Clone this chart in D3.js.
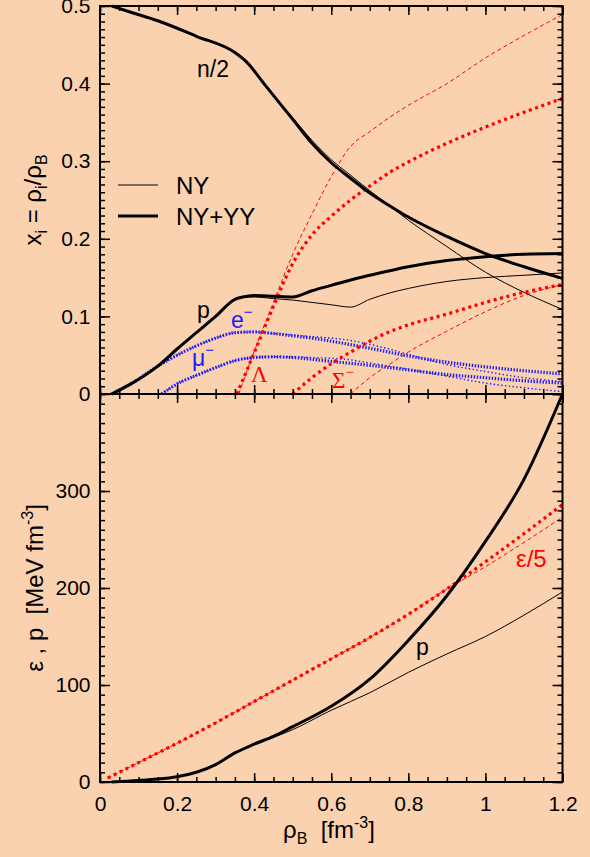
<!DOCTYPE html>
<html>
<head>
<meta charset="utf-8">
<script src="https://cdn.jsdelivr.net/npm/d3@7"></script>
<style>
  html, body { margin: 0; padding: 0; background: #FAD2B0; }
  svg { display: block; font-family: "Liberation Sans", Arial, sans-serif; }
</style>
</head>
<body>
<svg id="chart" width="590" height="857"></svg>
<script>
// --- data: [rho_B, value] ---
const rhoTicks = [0, 0.2, 0.4, 0.6, 0.8, 1, 1.2];
const fracTicks = [0, 0.1, 0.2, 0.3, 0.4, 0.5];
const eosTicks = [0, 100, 200, 300];

// upper panel, particle fractions (NY+YY thick, NY thin)
const neutronHalfNYYY = [[0.03,0.500],[0.08,0.492],[0.15,0.481],[0.25,0.461],[0.35,0.440],[0.38,0.428],[0.43,0.397],[0.5,0.354],[0.55,0.323],[0.6,0.298],[0.65,0.278],[0.7,0.259],[0.75,0.243],[0.8,0.228],[0.9,0.203],[1.0,0.181],[1.1,0.164],[1.2,0.149]];
const neutronHalfNY = [[0.03,0.500],[0.08,0.492],[0.15,0.481],[0.25,0.461],[0.35,0.440],[0.38,0.428],[0.43,0.397],[0.5,0.356],[0.55,0.327],[0.6,0.302],[0.65,0.282],[0.7,0.262],[0.75,0.243],[0.8,0.224],[0.9,0.190],[1.0,0.157],[1.1,0.131],[1.2,0.109]];
const protonNYYY = [[0.03,0],[0.08,0.013],[0.15,0.036],[0.2,0.058],[0.25,0.079],[0.3,0.100],[0.35,0.122],[0.37,0.125],[0.4,0.127],[0.45,0.126],[0.5,0.125],[0.55,0.133],[0.6,0.140],[0.65,0.147],[0.7,0.153],[0.8,0.164],[0.9,0.172],[1.0,0.177],[1.1,0.180],[1.2,0.181]];
const protonNY = [[0.03,0],[0.08,0.013],[0.15,0.036],[0.2,0.058],[0.25,0.079],[0.3,0.100],[0.35,0.122],[0.37,0.125],[0.4,0.125],[0.45,0.123],[0.5,0.121],[0.55,0.118],[0.6,0.115],[0.65,0.112],[0.7,0.122],[0.75,0.130],[0.8,0.136],[0.9,0.145],[1.0,0.150],[1.1,0.153],[1.2,0.156]];
const electronNYYY = [[0.03,0],[0.08,0.013],[0.15,0.036],[0.2,0.050],[0.25,0.062],[0.3,0.072],[0.35,0.079],[0.4,0.080],[0.45,0.078],[0.5,0.075],[0.55,0.072],[0.6,0.068],[0.7,0.059],[0.8,0.049],[0.9,0.041],[1.0,0.035],[1.1,0.030],[1.2,0.026]];
const electronNY = [[0.03,0],[0.08,0.013],[0.15,0.036],[0.2,0.050],[0.25,0.062],[0.3,0.072],[0.35,0.079],[0.4,0.080],[0.45,0.078],[0.5,0.076],[0.55,0.074],[0.6,0.072],[0.65,0.069],[0.7,0.064],[0.75,0.058],[0.8,0.051],[0.9,0.038],[1.0,0.029],[1.1,0.021],[1.2,0.016]];
const muonNYYY = [[0.16,0],[0.2,0.013],[0.25,0.024],[0.3,0.034],[0.35,0.043],[0.4,0.047],[0.45,0.048],[0.5,0.047],[0.6,0.042],[0.7,0.037],[0.8,0.031],[0.9,0.025],[1.0,0.021],[1.1,0.017],[1.2,0.014]];
const muonNY = [[0.16,0],[0.2,0.013],[0.25,0.024],[0.3,0.034],[0.35,0.043],[0.4,0.047],[0.45,0.048],[0.5,0.048],[0.55,0.047],[0.6,0.046],[0.65,0.044],[0.7,0.040],[0.8,0.032],[0.9,0.023],[1.0,0.014],[1.1,0.008],[1.2,0.003]];
const lambdaNYYY = [[0.355,0],[0.4,0.053],[0.45,0.113],[0.5,0.168],[0.55,0.205],[0.6,0.229],[0.65,0.250],[0.7,0.268],[0.75,0.285],[0.8,0.299],[0.9,0.323],[1.0,0.344],[1.1,0.363],[1.2,0.381]];
const lambdaNY = [[0.36,0],[0.4,0.055],[0.45,0.118],[0.5,0.180],[0.55,0.232],[0.6,0.280],[0.65,0.319],[0.7,0.338],[0.75,0.356],[0.8,0.372],[0.9,0.400],[1.0,0.433],[1.1,0.462],[1.2,0.489]];
const sigmaNYYY = [[0.5,0],[0.55,0.021],[0.6,0.039],[0.65,0.054],[0.7,0.068],[0.75,0.080],[0.8,0.089],[0.9,0.103],[1.0,0.118],[1.1,0.131],[1.2,0.141]];
const sigmaNY = [[0.65,0],[0.7,0.021],[0.75,0.038],[0.8,0.054],[0.9,0.081],[1.0,0.106],[1.1,0.127],[1.2,0.141]];

// lower panel, EoS in MeV fm^-3
const pressureNYYY = [[0.03,0],[0.1,1.5],[0.15,3],[0.2,5.5],[0.25,10],[0.3,18],[0.35,30],[0.4,39],[0.45,47],[0.5,57],[0.6,78],[0.7,106],[0.8,146],[0.9,192],[1.0,248],[1.1,312],[1.2,400]];
const pressureNY = [[0.03,0],[0.1,1.5],[0.15,3],[0.2,5.5],[0.25,10],[0.3,18],[0.35,30],[0.4,39],[0.45,46],[0.5,54],[0.6,74],[0.7,92],[0.8,113],[0.9,132],[1.0,150],[1.1,172],[1.2,196]];
const energy5NYYY = [[0.02,4],[0.1,20],[0.2,40],[0.3,61],[0.4,83],[0.5,105],[0.6,127],[0.7,149],[0.8,173],[0.9,199],[1.0,227],[1.1,256],[1.2,286]];
const energy5NY = [[0.02,4],[0.1,20],[0.2,40],[0.3,61],[0.4,83],[0.5,105],[0.6,127],[0.7,149],[0.8,173],[0.9,199],[1.0,222],[1.1,247],[1.2,273]];

// --- layout ---
const padLeft = 100, padRight = 562.5, padTop = 6, padMid = 394, padBottom = 782;
const svg = d3.select("#chart");

const x = d3.scaleLinear().domain([0, 1.2]).range([padLeft, padRight]);
const yTop = d3.scaleLinear().domain([0, 0.5]).range([padMid, padTop]);
const yBot = d3.scaleLinear().domain([0, 400]).range([padBottom, padMid]);

const RED = "#ff0000", BLUE = "#1a1aff";

// styles: thick = NY+YY, thin = NY
const styles = {
  blackThick: { stroke: "#000", width: 3, dash: null },
  blackThin: { stroke: "#000", width: 1, dash: null },
  redThick: { stroke: RED, width: 3.2, dash: "3,3.6" },
  redThin: { stroke: RED, width: 1, dash: "4,3" },
  blueThick: { stroke: BLUE, width: 3.2, dash: "1.4,1.6" },
  blueThin: { stroke: BLUE, width: 1.4, dash: "1.4,2.4" }
};

function drawCurve(data, yScale, st) {
  const line = d3.line()
    .x(d => x(d[0]))
    .y(d => yScale(d[1]))
    .curve(d3.curveMonotoneX);
  svg.append("path")
    .attr("d", line(data))
    .attr("fill", "none")
    .attr("stroke", st.stroke)
    .attr("stroke-width", st.width)
    .attr("stroke-dasharray", st.dash)
    .attr("stroke-linejoin", "round");
}

// upper panel curves
drawCurve(muonNY, yTop, styles.blueThin);
drawCurve(electronNY, yTop, styles.blueThin);
drawCurve(muonNYYY, yTop, styles.blueThick);
drawCurve(electronNYYY, yTop, styles.blueThick);
drawCurve(lambdaNY, yTop, styles.redThin);
drawCurve(sigmaNY, yTop, styles.redThin);
drawCurve(lambdaNYYY, yTop, styles.redThick);
drawCurve(sigmaNYYY, yTop, styles.redThick);
drawCurve(neutronHalfNY, yTop, styles.blackThin);
drawCurve(protonNY, yTop, styles.blackThin);
drawCurve(neutronHalfNYYY, yTop, styles.blackThick);
drawCurve(protonNYYY, yTop, styles.blackThick);

// lower panel curves
drawCurve(energy5NY, yBot, styles.redThin);
drawCurve(energy5NYYY, yBot, styles.redThick);
drawCurve(pressureNY, yBot, styles.blackThin);
drawCurve(pressureNYYY, yBot, styles.blackThick);

// --- axes ---
const fmtX = d => String(+d.toFixed(1));
const minorX = d3.range(0, 1.2001, 0.05);
const minorFrac = d3.range(0, 0.5001, 0.01);
const minorEos = d3.range(0, 400.1, 10);

function addAxis(axis, tx, ty, fontSize) {
  const g = svg.append("g")
    .attr("transform", `translate(${tx},${ty})`)
    .call(axis);
  g.select(".domain").remove();
  g.selectAll(".tick line").attr("stroke", "#000").attr("stroke-width", 1.5);
  g.selectAll(".tick text")
    .attr("fill", "#000")
    .style("font-size", fontSize + "px")
    .style("font-family", "'Liberation Sans', Arial, sans-serif");
  return g;
}

// x axes (bottom, middle, top)
addAxis(d3.axisBottom(x).tickValues(rhoTicks).tickSize(-9).tickPadding(14).tickFormat(fmtX), 0, padBottom, 21);
addAxis(d3.axisBottom(x).tickValues(minorX).tickSize(-5).tickFormat(""), 0, padBottom, 0);
[[-9, rhoTicks], [-5, minorX]].forEach(([s, vals]) => {
  addAxis(d3.axisBottom(x).tickValues(vals).tickSize(s).tickFormat(""), 0, padMid, 0);
  addAxis(d3.axisTop(x).tickValues(vals).tickSize(s).tickFormat(""), 0, padMid, 0);
  addAxis(d3.axisTop(x).tickValues(vals).tickSize(s).tickFormat(""), 0, padTop, 0);
});

// y axes upper
addAxis(d3.axisLeft(yTop).tickValues(fracTicks).tickSize(-10).tickPadding(9.5).tickFormat(d3.format("~g")), padLeft, 0, 21);
addAxis(d3.axisLeft(yTop).tickValues(minorFrac).tickSize(-5).tickFormat(""), padLeft, 0, 0);
addAxis(d3.axisRight(yTop).tickValues(fracTicks).tickSize(-10).tickFormat(""), padRight, 0, 0);
addAxis(d3.axisRight(yTop).tickValues(minorFrac).tickSize(-5).tickFormat(""), padRight, 0, 0);

// y axes lower
addAxis(d3.axisLeft(yBot).tickValues(eosTicks).tickSize(-10).tickPadding(9.5).tickFormat(d3.format("d")), padLeft, 0, 21);
addAxis(d3.axisLeft(yBot).tickValues(minorEos).tickSize(-5).tickFormat(""), padLeft, 0, 0);
addAxis(d3.axisRight(yBot).tickValues([0, 100, 200, 300, 400]).tickSize(-10).tickFormat(""), padRight, 0, 0);
addAxis(d3.axisRight(yBot).tickValues(minorEos).tickSize(-5).tickFormat(""), padRight, 0, 0);

// frames
svg.append("rect").attr("x", padLeft).attr("y", padTop).attr("width", padRight - padLeft).attr("height", padBottom - padTop)
  .attr("fill", "none").attr("stroke", "#000").attr("stroke-width", 2);
svg.append("line").attr("x1", padLeft).attr("x2", padRight).attr("y1", padMid).attr("y2", padMid)
  .attr("stroke", "#000").attr("stroke-width", 2);

// --- axis titles ---
const t1 = svg.append("text")
  .attr("transform", "translate(41,200) rotate(-90)")
  .attr("text-anchor", "middle")
  .style("font-size", "24px");
t1.append("tspan").text("x");
t1.append("tspan").attr("dy", 6).style("font-size", "16px").text("i");
t1.append("tspan").attr("dy", -6).text(" = ρ");
t1.append("tspan").attr("dy", 6).style("font-size", "16px").text("i");
t1.append("tspan").attr("dy", -6).text("/ρ");
t1.append("tspan").attr("dy", 6).style("font-size", "16px").text("B");

const t2 = svg.append("text")
  .attr("transform", "translate(43,588) rotate(-90)")
  .attr("text-anchor", "middle")
  .attr("xml:space", "preserve")
  .style("font-size", "24px");
t2.append("tspan").text("ε , p  [MeV fm");
t2.append("tspan").attr("dy", -10).style("font-size", "16px").text("-3");
t2.append("tspan").attr("dy", 10).text("]");

const t3 = svg.append("text")
  .attr("x", 283).attr("y", 838)
  .attr("xml:space", "preserve")
  .style("font-size", "24px");
t3.append("tspan").text("ρ");
t3.append("tspan").attr("dy", 6).style("font-size", "16px").text("B");
t3.append("tspan").attr("dy", -6).text("  [fm");
t3.append("tspan").attr("dy", -10).style("font-size", "16px").text("-3");
t3.append("tspan").attr("dy", 10).text("]");

// --- legend ---
const legend = [
  { label: "NY", st: styles.blackThin, y: 185 },
  { label: "NY+YY", st: styles.blackThick, y: 216 }
];
legend.forEach(l => {
  svg.append("line").attr("x1", 118).attr("x2", 158).attr("y1", l.y).attr("y2", l.y)
    .attr("stroke", l.st.stroke).attr("stroke-width", l.st.width);
  svg.append("text").attr("x", 176).attr("y", l.y + 9).style("font-size", "24px").text(l.label);
});

// --- curve labels ---
function label(xp, yp, txt, color, size, sup, serif) {
  const t = svg.append("text").attr("x", xp).attr("y", yp)
    .attr("fill", color).style("font-size", size + "px");
  if (serif) t.style("font-family", "'Liberation Serif', 'DejaVu Serif', serif");
  t.append("tspan").text(txt);
  if (sup) t.append("tspan").attr("dy", -11).style("font-size", "15px").text(sup);
  return t;
}
label(197, 77, "n/2", "#000", 23);
label(197, 318, "p", "#000", 23);
label(231, 328, "e", BLUE, 23, "−");
label(192, 366, "μ", BLUE, 23, "−");
label(251, 382, "Λ", RED, 23, null, true);
label(332, 388, "Σ", RED, 23, "−", true);
label(416, 655, "p", "#000", 23);
label(516, 567, "ε/5", RED, 24);
</script>
</body>
</html>
